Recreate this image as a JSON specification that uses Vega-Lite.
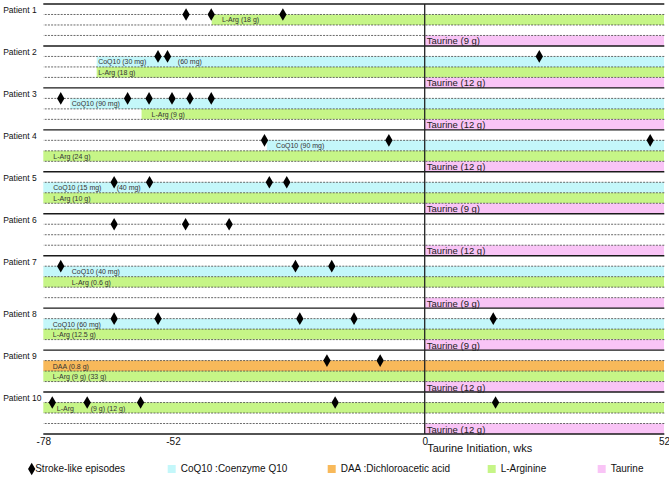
{
 "$schema": "https://vega.github.io/schema/vega-lite/v6.json",
 "width": 621, "height": 430,
 "autosize": {"type": "none"},
 "padding": {"left": 43.3, "top": 4, "right": 5, "bottom": 50},
 "background": "white",
 "config": {"font": "Liberation Sans", "view": {"stroke": null}, "axis": {"grid": false, "domain": false, "ticks": false, "tickSize": 0}},
 "datasets": {
  "bands": [
   {"patient": 1, "drug": "L-Arginine", "start": -44.0, "end": 52, "lane": 1, "lane_end": 2},
   {"patient": 1, "drug": "Taurine", "start": 0, "end": 52, "lane": 3, "lane_end": 4},
   {"patient": 2, "drug": "CoQ10 :Coenzyme Q10", "start": -67.3, "end": 52, "lane": 5, "lane_end": 6},
   {"patient": 2, "drug": "L-Arginine", "start": -67.3, "end": 52, "lane": 6, "lane_end": 7},
   {"patient": 2, "drug": "Taurine", "start": 0, "end": 52, "lane": 7, "lane_end": 8},
   {"patient": 3, "drug": "CoQ10 :Coenzyme Q10", "start": -72.6, "end": 52, "lane": 9, "lane_end": 10},
   {"patient": 3, "drug": "L-Arginine", "start": -58.3, "end": 52, "lane": 10, "lane_end": 11},
   {"patient": 3, "drug": "Taurine", "start": 0, "end": 52, "lane": 11, "lane_end": 12},
   {"patient": 4, "drug": "CoQ10 :Coenzyme Q10", "start": -32.6, "end": 52, "lane": 13, "lane_end": 14},
   {"patient": 4, "drug": "L-Arginine", "start": -78, "end": 52, "lane": 14, "lane_end": 15},
   {"patient": 4, "drug": "Taurine", "start": 0, "end": 52, "lane": 15, "lane_end": 16},
   {"patient": 5, "drug": "CoQ10 :Coenzyme Q10", "start": -78, "end": 52, "lane": 17, "lane_end": 18},
   {"patient": 5, "drug": "L-Arginine", "start": -78, "end": 52, "lane": 18, "lane_end": 19},
   {"patient": 5, "drug": "Taurine", "start": 0, "end": 52, "lane": 19, "lane_end": 20},
   {"patient": 6, "drug": "Taurine", "start": 0, "end": 52, "lane": 23, "lane_end": 24},
   {"patient": 7, "drug": "CoQ10 :Coenzyme Q10", "start": -78, "end": 52, "lane": 25, "lane_end": 26},
   {"patient": 7, "drug": "L-Arginine", "start": -78, "end": 52, "lane": 26, "lane_end": 27},
   {"patient": 7, "drug": "Taurine", "start": 0, "end": 52, "lane": 28, "lane_end": 29},
   {"patient": 8, "drug": "CoQ10 :Coenzyme Q10", "start": -78, "end": 52, "lane": 30, "lane_end": 31},
   {"patient": 8, "drug": "L-Arginine", "start": -78, "end": 52, "lane": 31, "lane_end": 32},
   {"patient": 8, "drug": "Taurine", "start": 0, "end": 52, "lane": 32, "lane_end": 33},
   {"patient": 9, "drug": "DAA :Dichloroacetic acid", "start": -78, "end": 52, "lane": 34, "lane_end": 35},
   {"patient": 9, "drug": "L-Arginine", "start": -78, "end": 52, "lane": 35, "lane_end": 36},
   {"patient": 9, "drug": "Taurine", "start": 0, "end": 52, "lane": 36, "lane_end": 37},
   {"patient": 10, "drug": "L-Arginine", "start": -78, "end": 52, "lane": 38, "lane_end": 39},
   {"patient": 10, "drug": "Taurine", "start": 0, "end": 52, "lane": 40, "lane_end": 41}
  ],
  "events": [
   {"patient": 1, "event": "Stroke-like episodes", "week": -49.3, "lane": 1},
   {"patient": 1, "event": "Stroke-like episodes", "week": -44.1, "lane": 1},
   {"patient": 1, "event": "Stroke-like episodes", "week": -29.3, "lane": 1},
   {"patient": 2, "event": "Stroke-like episodes", "week": -55.0, "lane": 5},
   {"patient": 2, "event": "Stroke-like episodes", "week": -53.1, "lane": 5},
   {"patient": 2, "event": "Stroke-like episodes", "week": 24.9, "lane": 5},
   {"patient": 3, "event": "Stroke-like episodes", "week": -74.5, "lane": 9},
   {"patient": 3, "event": "Stroke-like episodes", "week": -61.1, "lane": 9},
   {"patient": 3, "event": "Stroke-like episodes", "week": -56.8, "lane": 9},
   {"patient": 3, "event": "Stroke-like episodes", "week": -52.2, "lane": 9},
   {"patient": 3, "event": "Stroke-like episodes", "week": -48.5, "lane": 9},
   {"patient": 3, "event": "Stroke-like episodes", "week": -44.1, "lane": 9},
   {"patient": 4, "event": "Stroke-like episodes", "week": -33.1, "lane": 13},
   {"patient": 4, "event": "Stroke-like episodes", "week": -7.4, "lane": 13},
   {"patient": 4, "event": "Stroke-like episodes", "week": 49.0, "lane": 13},
   {"patient": 5, "event": "Stroke-like episodes", "week": -63.8, "lane": 17},
   {"patient": 5, "event": "Stroke-like episodes", "week": -56.7, "lane": 17},
   {"patient": 5, "event": "Stroke-like episodes", "week": -32.1, "lane": 17},
   {"patient": 5, "event": "Stroke-like episodes", "week": -28.5, "lane": 17},
   {"patient": 6, "event": "Stroke-like episodes", "week": -63.8, "lane": 21},
   {"patient": 6, "event": "Stroke-like episodes", "week": -49.4, "lane": 21},
   {"patient": 6, "event": "Stroke-like episodes", "week": -40.4, "lane": 21},
   {"patient": 7, "event": "Stroke-like episodes", "week": -74.5, "lane": 25},
   {"patient": 7, "event": "Stroke-like episodes", "week": -26.7, "lane": 25},
   {"patient": 7, "event": "Stroke-like episodes", "week": -19.2, "lane": 25},
   {"patient": 8, "event": "Stroke-like episodes", "week": -63.8, "lane": 30},
   {"patient": 8, "event": "Stroke-like episodes", "week": -55.0, "lane": 30},
   {"patient": 8, "event": "Stroke-like episodes", "week": -25.8, "lane": 30},
   {"patient": 8, "event": "Stroke-like episodes", "week": -14.6, "lane": 30},
   {"patient": 8, "event": "Stroke-like episodes", "week": 14.9, "lane": 30},
   {"patient": 9, "event": "Stroke-like episodes", "week": -20.2, "lane": 34},
   {"patient": 9, "event": "Stroke-like episodes", "week": -9.2, "lane": 34},
   {"patient": 10, "event": "Stroke-like episodes", "week": -76.2, "lane": 38},
   {"patient": 10, "event": "Stroke-like episodes", "week": -69.2, "lane": 38},
   {"patient": 10, "event": "Stroke-like episodes", "week": -58.5, "lane": 38},
   {"patient": 10, "event": "Stroke-like episodes", "week": -18.5, "lane": 38},
   {"patient": 10, "event": "Stroke-like episodes", "week": 15.4, "lane": 38}
  ],
  "notes": [
   {"patient": 1, "text": "L-Arg (18 g)", "week": -41.9, "lane": 1},
   {"patient": 2, "text": "CoQ10 (30 mg)", "week": -67.0, "lane": 5},
   {"patient": 2, "text": "(60 mg)", "week": -51.0, "lane": 5},
   {"patient": 2, "text": "L-Arg (18 g)", "week": -67.0, "lane": 6},
   {"patient": 3, "text": "CoQ10 (90 mg)", "week": -72.3, "lane": 9},
   {"patient": 3, "text": "L-Arg (9 g)", "week": -56.3, "lane": 10},
   {"patient": 4, "text": "CoQ10 (90 mg)", "week": -30.7, "lane": 13},
   {"patient": 4, "text": "L-Arg (24 g)", "week": -76.0, "lane": 14},
   {"patient": 5, "text": "CoQ10 (15 mg)", "week": -76.0, "lane": 17},
   {"patient": 5, "text": "(40 mg)", "week": -63.3, "lane": 17},
   {"patient": 5, "text": "L-Arg (10 g)", "week": -76.0, "lane": 18},
   {"patient": 7, "text": "CoQ10 (40 mg)", "week": -72.3, "lane": 25},
   {"patient": 7, "text": "L-Arg (0.6 g)", "week": -72.3, "lane": 26},
   {"patient": 8, "text": "CoQ10 (60 mg)", "week": -76.1, "lane": 30},
   {"patient": 8, "text": "L-Arg (12.5 g)", "week": -76.1, "lane": 31},
   {"patient": 9, "text": "DAA (0.8 g)", "week": -76.1, "lane": 34},
   {"patient": 9, "text": "L-Arg (9 g) (33 g)", "week": -76.1, "lane": 35},
   {"patient": 10, "text": "L-Arg", "week": -75.3, "lane": 38},
   {"patient": 10, "text": "(9 g) (12 g)", "week": -68.5, "lane": 38}
  ],
  "taurine": [
   {"patient": 1, "text": "Taurine (9 g)", "week": 0.45, "lane": 3},
   {"patient": 2, "text": "Taurine (12 g)", "week": 0.45, "lane": 7},
   {"patient": 3, "text": "Taurine (12 g)", "week": 0.45, "lane": 11},
   {"patient": 4, "text": "Taurine (12 g)", "week": 0.45, "lane": 15},
   {"patient": 5, "text": "Taurine (9 g)", "week": 0.45, "lane": 19},
   {"patient": 6, "text": "Taurine (12 g)", "week": 0.45, "lane": 23},
   {"patient": 7, "text": "Taurine (9 g)", "week": 0.45, "lane": 28},
   {"patient": 8, "text": "Taurine (9 g)", "week": 0.45, "lane": 32},
   {"patient": 9, "text": "Taurine (12 g)", "week": 0.45, "lane": 36},
   {"patient": 10, "text": "Taurine (12 g)", "week": 0.45, "lane": 40}
  ],
  "solid": [{"b": 0}, {"b": 4}, {"b": 8}, {"b": 12}, {"b": 16}, {"b": 20}, {"b": 24}, {"b": 29}, {"b": 33}, {"b": 37}, {"b": 41}],
  "dashed": [{"b": 1}, {"b": 2}, {"b": 3}, {"b": 5}, {"b": 6}, {"b": 7}, {"b": 9}, {"b": 10}, {"b": 11}, {"b": 13}, {"b": 14}, {"b": 15}, {"b": 17}, {"b": 18}, {"b": 19}, {"b": 21}, {"b": 22}, {"b": 23}, {"b": 25}, {"b": 26}, {"b": 27}, {"b": 28}, {"b": 30}, {"b": 31}, {"b": 32}, {"b": 34}, {"b": 35}, {"b": 36}, {"b": 38}, {"b": 39}, {"b": 40}]
 },
 "layer": [
  {
   "data": {"name": "bands"},
   "transform": [{"filter": "datum.drug == 'CoQ10 :Coenzyme Q10'"}],
   "mark": {"type": "rect"},
   "encoding": {
    "x": {"field": "start", "type": "quantitative", "title": "Taurine Initiation, wks",
     "scale": {"domain": [-78, -52, 0, 52], "range": [0, 129.7, 381.4, 620.7], "nice": false, "zero": false},
     "axis": {"values": [-78, -52, 0, 52], "labelExpr": "'' + datum.value", "labelFontSize": 10, "labelPadding": 2.5, "labelFlush": false, "labelOverlap": false, "labelColor": "#111", "title": "Taurine Initiation, wks", "titleFontSize": 11, "titleFontWeight": "normal", "titleAlign": "left", "titleX": 383.4, "titleY": 14.5, "titleBaseline": "middle", "titleColor": "#111"}},
    "x2": {"field": "end"},
    "y": {"field": "lane", "type": "quantitative", "title": null,
     "scale": {"domain": [0, 41], "range": [0, 430], "nice": false, "zero": false},
     "axis": {"values": [0.55, 4.55, 8.55, 12.55, 16.55, 20.55, 24.55, 29.55, 33.55, 37.55], "labelExpr": "'Patient ' + (datum.value < 29 ? floor(datum.value / 4) + 1 : floor((datum.value - 1) / 4) + 1)", "labelAlign": "left", "labelBaseline": "middle", "labelPadding": 40.6, "labelFontSize": 8.5, "labelColor": "#111", "labelFlush": false, "labelOverlap": false, "labelBound": false, "title": null}},
    "y2": {"field": "lane_end"},
    "fill": {"field": "drug", "type": "nominal", "scale": {"domain": ["CoQ10 :Coenzyme Q10"], "range": ["#c4f7fa"]},
     "legend": {"orient": "none", "legendX": 123.4, "legendY": 460, "title": null, "symbolType": "square", "symbolSize": 64, "symbolStrokeWidth": 0, "labelFontSize": 10, "labelOffset": 4, "labelColor": "#111"}}
   }
  },
  {
   "data": {"name": "bands"},
   "transform": [{"filter": "datum.drug == 'DAA :Dichloroacetic acid'"}],
   "mark": {"type": "rect"},
   "encoding": {
    "x": {"field": "start", "type": "quantitative", "title": "Taurine Initiation, wks", "scale": {"domain": [-78, -52, 0, 52], "range": [0, 129.7, 381.4, 620.7], "nice": false, "zero": false}},
    "x2": {"field": "end"},
    "y": {"field": "lane", "type": "quantitative", "title": null, "scale": {"domain": [0, 41], "range": [0, 430], "nice": false, "zero": false}},
    "y2": {"field": "lane_end"},
    "fill": {"field": "drug", "type": "nominal", "scale": {"domain": ["DAA :Dichloroacetic acid"], "range": ["#f8b95a"]},
     "legend": {"orient": "none", "legendX": 283.4, "legendY": 460, "title": null, "symbolType": "square", "symbolSize": 64, "symbolStrokeWidth": 0, "labelFontSize": 10, "labelOffset": 4, "labelColor": "#111"}}
   }
  },
  {
   "data": {"name": "bands"},
   "transform": [{"filter": "datum.drug == 'L-Arginine'"}],
   "mark": {"type": "rect"},
   "encoding": {
    "x": {"field": "start", "type": "quantitative", "title": "Taurine Initiation, wks", "scale": {"domain": [-78, -52, 0, 52], "range": [0, 129.7, 381.4, 620.7], "nice": false, "zero": false}},
    "x2": {"field": "end"},
    "y": {"field": "lane", "type": "quantitative", "title": null, "scale": {"domain": [0, 41], "range": [0, 430], "nice": false, "zero": false}},
    "y2": {"field": "lane_end"},
    "fill": {"field": "drug", "type": "nominal", "scale": {"domain": ["L-Arginine"], "range": ["#c6f587"]},
     "legend": {"orient": "none", "legendX": 443.4, "legendY": 460, "title": null, "symbolType": "square", "symbolSize": 64, "symbolStrokeWidth": 0, "labelFontSize": 10, "labelOffset": 4, "labelColor": "#111"}}
   }
  },
  {
   "data": {"name": "bands"},
   "transform": [{"filter": "datum.drug == 'Taurine'"}],
   "mark": {"type": "rect"},
   "encoding": {
    "x": {"field": "start", "type": "quantitative", "title": "Taurine Initiation, wks", "scale": {"domain": [-78, -52, 0, 52], "range": [0, 129.7, 381.4, 620.7], "nice": false, "zero": false}},
    "x2": {"field": "end"},
    "y": {"field": "lane", "type": "quantitative", "title": null, "scale": {"domain": [0, 41], "range": [0, 430], "nice": false, "zero": false}},
    "y2": {"field": "lane_end"},
    "fill": {"field": "drug", "type": "nominal", "scale": {"domain": ["Taurine"], "range": ["#f9c4f6"]},
     "legend": {"orient": "none", "legendX": 553.4, "legendY": 460, "title": null, "symbolType": "square", "symbolSize": 64, "symbolStrokeWidth": 0, "labelFontSize": 10, "labelOffset": 4, "labelColor": "#111"}}
   }
  },
  {
   "data": {"name": "dashed"},
   "mark": {"type": "rule", "strokeDash": [2, 1.2], "strokeWidth": 0.8, "color": "#444"},
   "encoding": {
    "y": {"field": "b", "type": "quantitative", "title": null, "scale": {"domain": [0, 41], "range": [0, 430], "nice": false, "zero": false}}
   }
  },
  {
   "data": {"name": "solid"},
   "mark": {"type": "rule", "strokeWidth": 1.4, "color": "#1a1a1a"},
   "encoding": {
    "y": {"field": "b", "type": "quantitative", "title": null, "scale": {"domain": [0, 41], "range": [0, 430], "nice": false, "zero": false}}
   }
  },
  {
   "data": {"values": [{"week": 0}]},
   "mark": {"type": "rule", "strokeWidth": 1.3, "color": "#222"},
   "encoding": {
    "x": {"field": "week", "type": "quantitative", "title": "Taurine Initiation, wks", "scale": {"domain": [-78, -52, 0, 52], "range": [0, 129.7, 381.4, 620.7], "nice": false, "zero": false}}
   }
  },
  {
   "data": {"name": "notes"},
   "mark": {"type": "text", "align": "left", "baseline": "middle", "dy": 6, "fontSize": 7, "color": "#333"},
   "encoding": {
    "x": {"field": "week", "type": "quantitative", "title": "Taurine Initiation, wks", "scale": {"domain": [-78, -52, 0, 52], "range": [0, 129.7, 381.4, 620.7], "nice": false, "zero": false}},
    "y": {"field": "lane", "type": "quantitative", "title": null, "scale": {"domain": [0, 41], "range": [0, 430], "nice": false, "zero": false}},
    "text": {"field": "text"}
   }
  },
  {
   "data": {"name": "taurine"},
   "mark": {"type": "text", "align": "left", "baseline": "middle", "dy": 6, "fontSize": 9.5, "color": "#222"},
   "encoding": {
    "x": {"field": "week", "type": "quantitative", "title": "Taurine Initiation, wks", "scale": {"domain": [-78, -52, 0, 52], "range": [0, 129.7, 381.4, 620.7], "nice": false, "zero": false}},
    "y": {"field": "lane", "type": "quantitative", "title": null, "scale": {"domain": [0, 41], "range": [0, 430], "nice": false, "zero": false}},
    "text": {"field": "text"}
   }
  },
  {
   "data": {"name": "events"},
   "mark": {"type": "point", "filled": true, "size": 160, "color": "#000", "strokeWidth": 0, "opacity": 1},
   "encoding": {
    "x": {"field": "week", "type": "quantitative", "title": "Taurine Initiation, wks", "scale": {"domain": [-78, -52, 0, 52], "range": [0, 129.7, 381.4, 620.7], "nice": false, "zero": false}},
    "y": {"field": "lane", "type": "quantitative", "title": null, "scale": {"domain": [0, 41], "range": [0, 430], "nice": false, "zero": false}},
    "shape": {"field": "event", "type": "nominal", "scale": {"range": ["M0,-1L0.58,0L0,1L-0.58,0Z"]},
     "legend": {"orient": "none", "legendX": -18.1, "legendY": 458.5, "title": null, "symbolSize": 160, "symbolFillColor": "#000", "symbolStrokeWidth": 0, "labelFontSize": 10, "labelOffset": -3, "labelColor": "#111"}}
   }
  }
 ],
 "resolve": {"scale": {"fill": "independent"}, "legend": {"fill": "independent"}}
}
